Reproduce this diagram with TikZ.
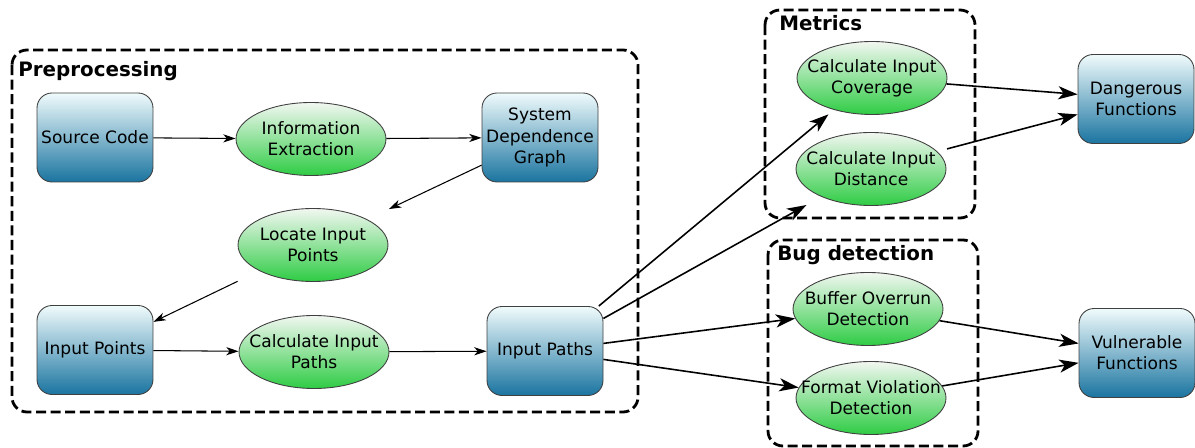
\documentclass[tikz,border=0pt]{standalone}
\usepackage{fontspec}
\setmainfont{DejaVu Sans}
\usetikzlibrary{arrows.meta,shapes.geometric}

\definecolor{boxtop}{HTML}{F0FBFC}
\definecolor{boxbot}{HTML}{1A74A0}
\definecolor{elltop}{HTML}{F2F7F1}
\definecolor{ellbot}{HTML}{2ECC44}

\begin{document}
\begin{tikzpicture}[x=0.02cm, y=-0.02cm,
		data/.style={rectangle, rounded corners=0.3cm, draw=black!75, line width=0.5pt,
			top color=boxtop, bottom color=boxbot, minimum width=2.32cm, minimum height=1.78cm,
			inner sep=0pt, align=center, font=\fontsize{9.7}{12}\selectfont},
		task/.style={ellipse, draw=black!75, line width=0.5pt,
			top color=elltop, bottom color=ellbot, minimum width=3cm, minimum height=1.46cm,
			inner xsep=-0.45cm, inner ysep=0pt, align=center, font=\fontsize{9.7}{12}\selectfont},
		group/.style={draw, line width=1.6pt, dash pattern=on 5.7pt off 2.6pt, rounded corners=0.3cm},
		grouptitle/.style={anchor=base west, inner sep=0pt, font=\fontsize{11.3}{13}\selectfont\bfseries},
		flow/.style={-{Stealth[length=7pt, width=4.6pt, inset=2pt]}, line width=0.6pt},
		link/.style={-{Stealth[length=11pt, width=7.5pt, inset=3pt]}, line width=0.9pt}]

	\useasboundingbox (0,0) rectangle (1195,448);

	\begin{scope}
		% dashed groups
		\draw[group] (12,50) rectangle (638,412);
		\node[grouptitle] (pretitle) at (18,77) {Preprocessing};
		\draw[group] (765,10) rectangle (975,218);
		\node[grouptitle] (mettitle) at (779,31) {Metrics};
		\draw[group] (768,240) rectangle (978,446);
		\node[grouptitle] (bugtitle) at (777,261) {Bug detection};

		% preprocessing
		\node[data] (src) at (95,137.5) {Source Code};
		\node[task] (extract) at (311,139) {Information\\Extraction};
		\node[data] (sdg) at (540,137.5) {System\\Dependence\\Graph};
		\node[task] (locate) at (313,245) {Locate Input\\Points};
		\node[data] (inpoints) at (95,350) {Input Points};
		\node[task] (calcpaths) at (314,352) {Calculate Input\\Paths};
		\node[data] (inpaths) at (545,351) {Input Paths};

		% metrics and bug detection
		\node[task] (coverage) at (872,78) {Calculate Input\\Coverage};
		\node[task] (distance) at (871,169) {Calculate Input\\Distance};
		\node[task] (overrun) at (868,309) {Buffer Overrun\\Detection};
		\node[task] (format) at (871,398) {Format Violation\\Detection};

		% results
		\node[data] (dangerous) at (1136,99) {Dangerous\\Functions};
		\node[data] (vulnerable) at (1137,353) {Vulnerable\\Functions};

		\draw[flow] (src) -- (extract); % code to extraction
		\draw[flow] (extract) -- (sdg); % extraction to graph
		\draw[flow, shorten >=0.48cm] (sdg) -- (locate); % graph to locate
		\draw[flow, shorten <=0.48cm] (locate) -- (inpoints); % locate to points
		\draw[flow] (inpoints) -- (calcpaths);
		\draw[flow] (calcpaths) -- (inpaths);

		\draw[link, shorten >=0.14cm] (inpaths) -- (coverage);
		\draw[link, shorten >=0.34cm] (inpaths) -- (distance);
		\draw[link] (inpaths) -- (overrun);
		\draw[link] (inpaths) -- (format);

		\draw[link] (coverage) -- (dangerous);
		\draw[link, shorten <=0.2cm] (distance) -- (dangerous);
		\draw[link] (overrun) -- (vulnerable);
		\draw[link] (format) -- (vulnerable);
	\end{scope}
\end{tikzpicture}
\end{document}
